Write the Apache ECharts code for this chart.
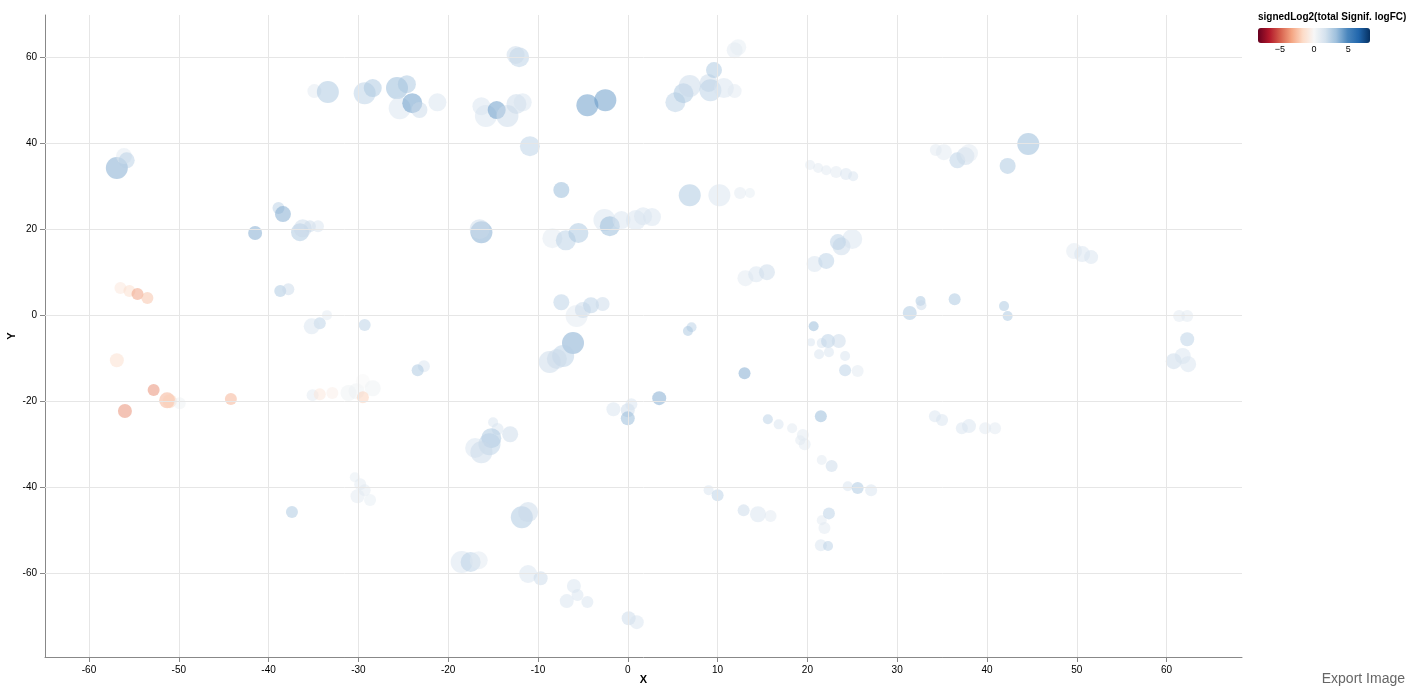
<!DOCTYPE html>
<html><head><meta charset="utf-8">
<script src="https://cdn.jsdelivr.net/npm/echarts@6/dist/echarts.min.js"></script>
<style>html,body{margin:0;padding:0;background:#fff}#main{width:1413px;height:690px}</style>
</head><body><div id="main"></div>
<script>
// points: [x, y, radius, signedLog2 value]
var points = [
[-12.1,60.0,10,2.5],[-12.5,60.5,9,2],[11.9,61.6,8,1],[12.3,62.3,8,0.8],
[-34.9,52.1,7,1],[-33.4,51.9,11,3],[-29.3,51.6,11,2.5],[-28.4,52.8,9,3],[-25.7,52.8,11,3.5],
[-25.4,48.1,11,1.5],[-24.6,53.7,9,3],[-24.0,49.3,10,4.5],[-23.2,47.7,8,2],[-21.2,49.5,9,1.5],
[-16.3,48.6,9,1.5],[-15.8,46.3,11,1.5],[-14.6,47.7,9,4.5],[-13.4,46.3,11,2],[-12.4,49.1,10,2],
[-11.7,49.5,9,1.5],[-4.5,48.8,11,4.5],[-2.5,50.0,11,4.5],[5.3,49.5,10,2.5],[6.2,51.6,10,3],
[6.9,53.3,11,2],[9.0,54.0,9,2],[9.2,52.3,11,2.5],[10.7,52.8,10,1.5],[11.9,52.1,7,1],[9.6,57.0,8,3],
[-10.9,39.3,10,2.5],[-56.9,34.2,11,4],[-56.1,37.0,8,1],[-55.8,36.0,8,2.5],[-7.4,29.1,8,3.5],
[6.9,27.9,11,3],[10.2,27.9,11,1.5],[12.5,28.4,6,1],[13.6,28.4,5,0.8],
[20.3,34.9,5,1],[21.2,34.2,5,1],[22.1,33.7,5,1],[23.2,33.3,6,1],[24.3,32.8,6,1.5],[25.1,32.3,5,1.5],
[44.6,39.8,11,3.5],[42.3,34.7,8,3],[34.3,38.4,6,1],[35.2,37.9,8,1],[36.7,36.0,8,2.5],[37.6,37.0,9,2],[38.0,37.7,9,1],
[-38.9,24.9,6,2.5],[-38.4,23.5,8,4],[-36.5,19.3,9,3],[-36.2,20.2,9,2],[-35.4,20.7,6,2],[-34.5,20.7,6,1.5],
[-41.5,19.1,7,4],[-16.3,19.3,11,4],[-16.5,20.0,10,2],[-8.4,17.9,10,1],[-6.9,17.4,10,2.5],[-5.5,19.1,10,3],
[-2.6,22.1,11,1.5],[-2.0,20.7,10,3.5],[-0.7,22.1,9,1.5],[0.9,22.1,10,1.5],[2.7,22.8,9,1.5],[1.7,23.0,9,1.5],
[49.7,14.9,8,1],[50.6,14.2,8,1.5],[51.6,13.5,7,1.5],[13.1,8.6,8,1],[14.3,9.5,8,1.5],[15.5,10.0,8,2],
[20.8,11.9,8,1.5],[22.1,12.6,8,2.5],[23.8,16.0,9,2],[25.0,17.7,10,1.5],[23.4,17.0,8,2.5],
[-56.5,6.3,6,-1],[-55.5,5.6,6,-1.5],[-54.6,4.9,6,-3.5],[-53.5,4.0,6,-2.5],[-38.7,5.6,6,3],[-37.8,6.0,6,2],
[-7.4,3.0,8,2.5],[-5.7,-0.2,11,1],[-5.0,1.2,8,2],[-4.1,2.3,8,2.5],[-2.8,2.6,7,2],
[32.6,3.3,5,3],[32.7,2.3,5,2],[31.4,0.5,7,3],[36.4,3.7,6,3],[41.9,2.1,5,3],[42.3,-0.2,5,3],
[61.4,-0.2,6,1],[62.3,-0.2,6,1],[-34.3,-1.9,6,2.5],[-35.2,-2.6,8,1.5],[-33.5,0,5,1],[-29.3,-2.3,6,2.5],
[7.1,-2.8,5,2.5],[6.7,-3.7,5,3],[20.7,-2.6,5,3.5],[20.4,-6.3,4,1.5],[21.6,-6.5,5,1.5],[22.3,-6.0,7,2.5],
[23.5,-6.0,7,2],[24.2,-9.5,5,1.5],[21.3,-9.1,5,1.5],[22.4,-8.6,5,1.5],
[-6.1,-6.5,11,4],[-7.2,-9.5,11,2.5],[-8.7,-10.9,11,2],[-7.9,-10.2,10,2],[-56.9,-10.5,7,-1.5],
[60.8,-10.7,8,2],[61.8,-9.5,8,1.5],[62.4,-11.4,8,1.5],[62.3,-5.6,7,2.5],[-22.7,-11.9,6,1.5],[-23.4,-12.8,6,3],
[13.0,-13.5,6,4],[25.6,-13.0,6,1],[24.2,-12.8,6,2.5],
[-52.8,-17.4,6,-4],[-51.3,-19.8,8,-3],[-51.0,-20.0,7,-2],[-49.9,-20.5,6,0.5],[-56.0,-22.3,7,-4],[-44.2,-19.5,6,-3],
[-35.1,-18.6,6,1],[-34.3,-18.4,6,-1],[-32.9,-18.1,6,-0.5],[-31.1,-18.1,8,0.5],[-30.2,-17.7,8,0.5],
[-29.5,-15.3,7,0],[-28.4,-17.0,8,0.5],[-29.5,-19.1,6,-2],
[3.5,-19.3,7,4],[-1.6,-21.9,7,1.5],[0,-22.1,7,2],[0,-24.0,7,3.5],[0.4,-20.7,6,1.5],
[15.6,-24.2,5,2.5],[16.8,-25.4,5,1.5],[18.3,-26.3,5,1],[19.5,-27.9,6,1],[19.7,-30.0,6,1],[19.2,-29.1,5,1],
[21.5,-23.5,6,3.5],[34.2,-23.5,6,1.5],[35.0,-24.4,6,1.5],[37.2,-26.3,6,1.5],[38.0,-25.8,7,1.5],[39.8,-26.3,6,1],[40.9,-26.3,6,1],
[-15.0,-24.9,5,1.5],[-14.5,-26.5,6,1.5],[-13.1,-27.7,8,2],[-15.2,-28.6,10,3],[-15.4,-30.0,11,2.5],
[-17.0,-30.9,10,1.5],[-16.3,-31.9,11,2],
[-30.4,-37.7,5,0.8],[-29.8,-39.3,6,1],[-29.3,-40.7,6,1],[-30.1,-42.1,7,1],[-28.7,-43.0,6,0.8],[-37.4,-45.8,6,3],
[9.0,-40.7,5,1.5],[10.0,-41.9,6,2.5],[21.6,-33.7,5,1],[22.7,-35.1,6,2],[24.5,-39.8,5,1.5],[25.6,-40.2,6,3],[27.1,-40.7,6,1.5],
[12.9,-45.4,6,2],[14.5,-46.3,8,1.5],[15.9,-46.7,6,1],[21.6,-47.7,5,1],[22.4,-46.1,6,2.5],[21.9,-49.5,6,1],
[21.5,-53.5,6,1.5],[22.3,-53.7,5,2.5],[-11.8,-47.0,11,3],[-11.1,-45.8,10,2],
[-18.5,-57.4,11,1.5],[-17.5,-57.4,10,2.5],[-16.6,-57.0,9,1],[-11.1,-60.2,9,1.5],[-9.7,-61.2,7,2],
[-6.0,-63.0,7,1.5],[-5.6,-65.1,6,1.5],[-6.8,-66.5,7,1.5],[-4.5,-66.7,6,1.5],[0.1,-70.5,7,2],[1.0,-71.4,7,1.5]
];
var xTicks = [-60,-50,-40,-30,-20,-10,0,10,20,30,40,50,60];
var yTicks = [-60,-40,-20,0,20,40,60];
var legendTicks = [-5,0,5];

var chart = echarts.init(document.getElementById('main'));
var xMin=-64.9, xMax=68.4, yMin=-79.5, yMax=69.8;
var labelStyle = {color:'#000',fontSize:10,fontFamily:'Arial, Liberation Sans'};
var nameStyle = {fontWeight:'bold',fontSize:11,color:'#000',fontFamily:'Arial, Liberation Sans'};
var gridLines = xTicks.map(function(v){return {xAxis:v};}).concat(yTicks.map(function(v){return {yAxis:v};}));
var lx = 1258, lw = 112, lRange = 8.2;
function legendX(v){ return lx + (v + lRange) / (2 * lRange) * lw; }
var option = {
  animation:false,
  grid:{left:45, right:171, top:15, bottom:33, containLabel:false, outerBoundsMode:'none'},
  xAxis:{type:'value',min:xMin,max:xMax,name:'X',nameLocation:'middle',nameGap:17,nameMoveOverlap:false,nameTextStyle:nameStyle,
    axisLine:{show:true,onZero:false,lineStyle:{color:'#888'}},
    axisTick:{show:true,customValues:xTicks,lineStyle:{color:'#888'}},
    axisLabel:Object.assign({customValues:xTicks},labelStyle),splitLine:{show:false}},
  yAxis:{type:'value',min:yMin,max:yMax,name:'Y',nameLocation:'middle',nameGap:28,nameMoveOverlap:false,nameTextStyle:nameStyle,
    axisLine:{show:true,onZero:false,lineStyle:{color:'#888'}},
    axisTick:{show:true,customValues:yTicks,lineStyle:{color:'#888'}},
    axisLabel:Object.assign({customValues:yTicks},labelStyle),splitLine:{show:false}},
  visualMap:{type:'continuous',min:-lRange,max:lRange,dimension:3,seriesIndex:0,orient:'horizontal',
    left:lx,top:28,padding:0,itemWidth:15,itemHeight:lw,calculable:false,showLabel:false,text:['',''],
    inRange:{color:['#67001f','#b2182b','#d6604d','#f4a582','#fddbc7','#f7f7f7','#d5e2ee','#9dbfdc','#4a86bd','#2166ac','#053061']}},
  graphic:[
    {type:'text',left:1258,top:12,z:100,style:{text:'signedLog2(total Signif. logFC)',font:'bold 10px Arial, Liberation Sans',fill:'#000'}}
  ].concat(legendTicks.map(function(t){
    return {type:'text',x:legendX(t),y:45,z:100,style:{text:(t<0?'\u2212'+(-t):''+t),font:'9px Arial, Liberation Sans',fill:'#000',align:'center'}};
  })).concat([
    {type:'text',right:8,bottom:4,z:100,style:{text:'Export Image',font:'14px Arial, Liberation Sans',fill:'#666'}}
  ]),
  series:[{
    type:'scatter',
    data:points,
    symbolSize:function(d){return d[2]*2;},
    itemStyle:{opacity:0.5},
    z:3
  },{
    type:'line',data:[],silent:true,
    markLine:{silent:true,symbol:'none',label:{show:false},animation:false,
      lineStyle:{color:'#e6e6e6',type:'solid',width:1},data:gridLines},
    z:1
  }]
};
chart.setOption(option);
</script></body></html>
